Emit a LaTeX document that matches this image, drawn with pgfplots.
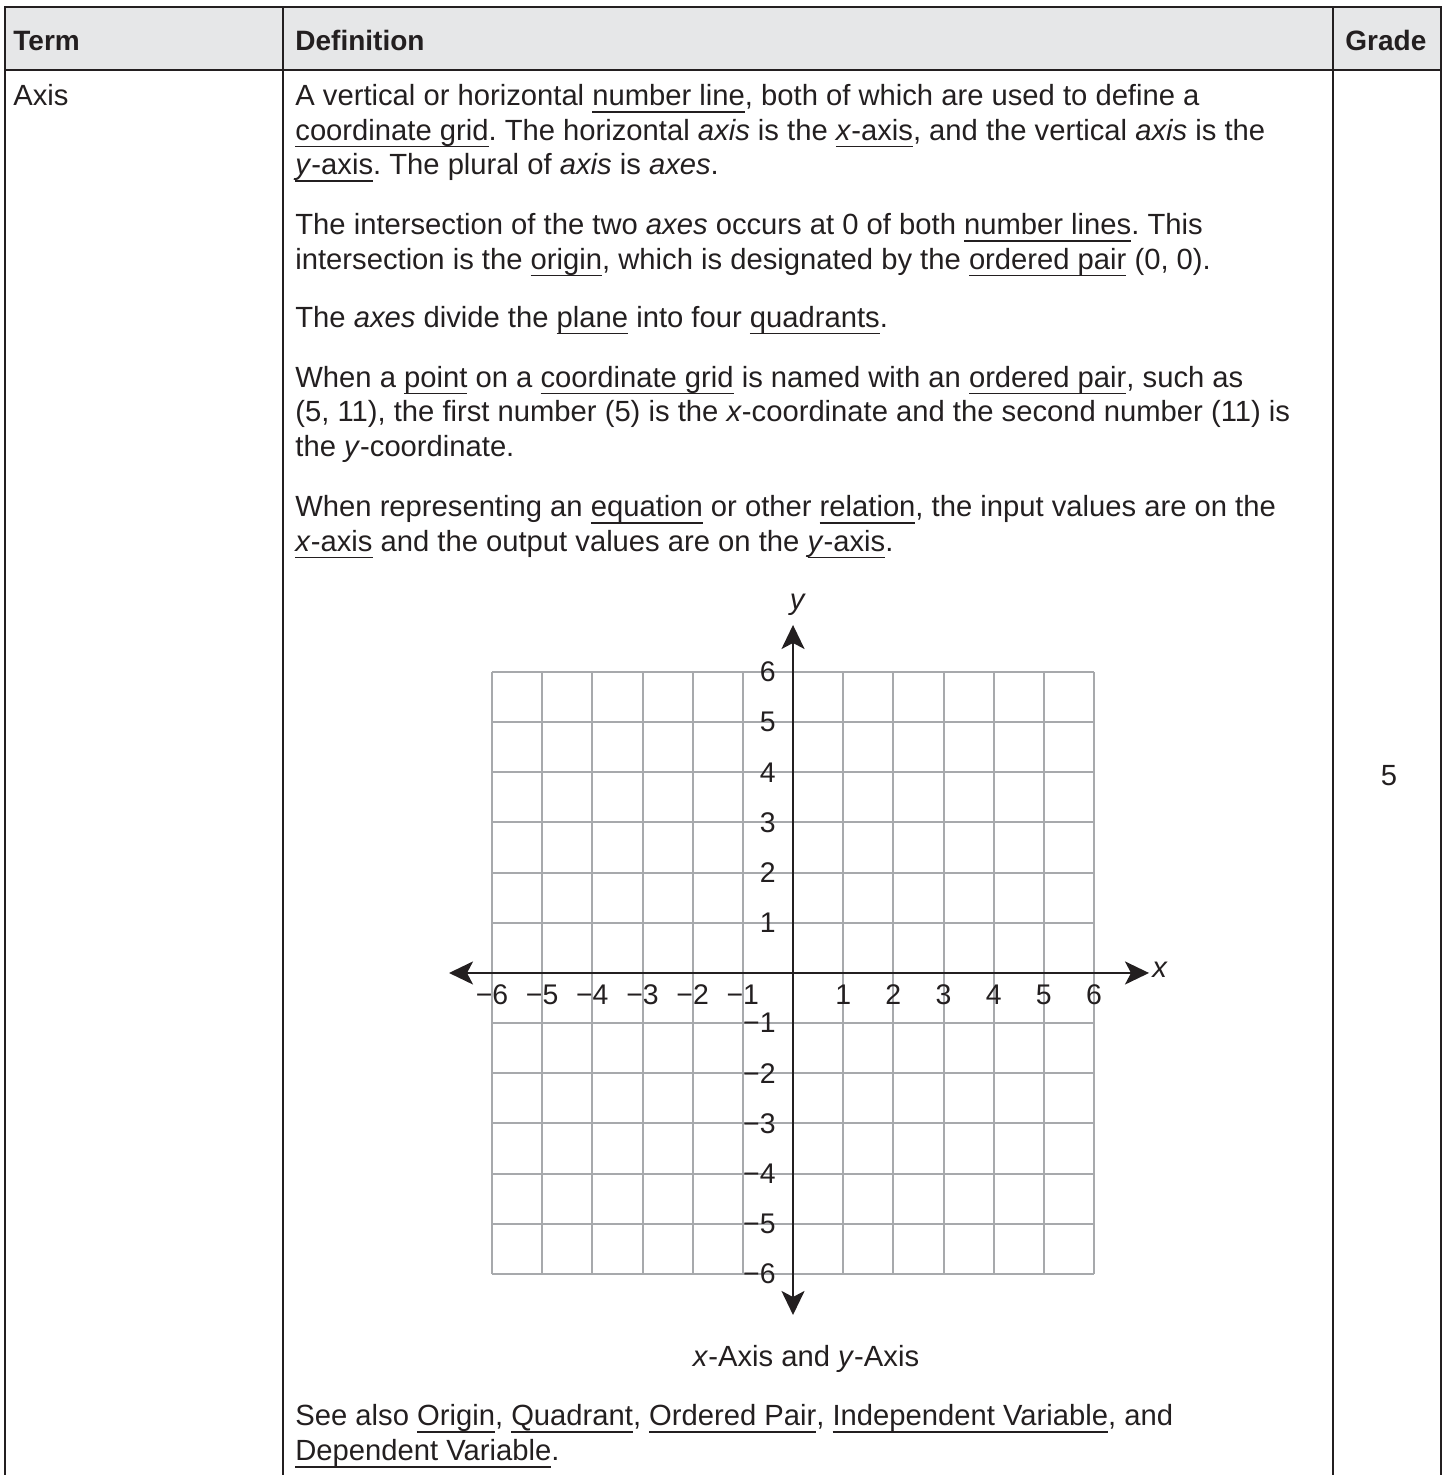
\documentclass[border=0pt]{standalone}
\usepackage{fontspec}
\setmainfont{Liberation Sans}
\usepackage{pgfplots}
\pgfplotsset{compat=1.18}
\usetikzlibrary{arrows.meta}
\definecolor{ink}{HTML}{231F20}
\definecolor{gridgray}{HTML}{A7A9AC}
\definecolor{headfill}{HTML}{E6E7E8}
\newsavebox\ulbox
\newcommand{\ul}[1]{\sbox\ulbox{#1}\rlap{\rule[-3.3pt]{\wd\ulbox}{0.7pt}}\usebox\ulbox}
\newcommand{\body}{\fontsize{14.6}{17.25}\selectfont}
\newcommand{\head}{\fontsize{14}{17}\selectfont\bfseries}
\newcommand{\tickfont}{\fontsize{14.2}{16}\selectfont}
\tikzset{tip/.tip={Stealth[length=12pt,width=11.5pt,inset=3pt]}}
\frenchspacing

\begin{document}
\begin{tikzpicture}[x=0.5pt,y=0.5pt,
  txt/.style={anchor=base west,inner sep=0pt,font=\body,text=ink}]
\path[use as bounding box] (0,0) rectangle (1442,1475);

% table frame
\fill[headfill] (5,1405) rectangle (1441,1468);
\draw[ink,line width=1.2pt] (5,0) -- (5,1468) -- (1441,1468) -- (1441,0);
\draw[ink,line width=1.2pt] (5,1405) -- (1441,1405);
\draw[ink,line width=1.2pt] (283,0) -- (283,1468);
\draw[ink,line width=1.2pt] (1333,0) -- (1333,1468);

% header row
\node[txt,font=\head] at (13,1424) {Term};
\node[txt,font=\head] at (295,1424) {Definition};
\node[txt,font=\head] at (1345,1424) {Grade};

% body
\node[txt] at (13,1369) {Axis};
\node[txt,anchor=base] at (1389,689.5) {5};

\node[txt] at (295,1369) {A vertical or horizontal \ul{number line}, both of which are used to define a};
\node[txt] at (295,1334.5) {\ul{coordinate grid}. The horizontal \textit{axis} is the \ul{\textit{x}-axis}, and the vertical \textit{axis} is the};
\node[txt] at (295,1300) {\ul{\textit{y}-axis}. The plural of \textit{axis} is \textit{axes}.};

\node[txt] at (295,1240) {The intersection of the two \textit{axes} occurs at 0 of both \ul{number lines}. This};
\node[txt] at (295,1205.5) {intersection is the \ul{origin}, which is designated by the \ul{ordered pair} (0, 0).};

\node[txt] at (295,1147.5) {The \textit{axes} divide the \ul{plane} into four \ul{quadrants}.};

\node[txt] at (295,1087.5) {When a \ul{point} on a \ul{coordinate grid} is named with an \ul{ordered pair}, such as};
\node[txt] at (295,1053) {(5, 11), the first number (5) is the \textit{x}-coordinate and the second number (11) is};
\node[txt] at (295,1018.5) {the \textit{y}-coordinate.};

\node[txt] at (295,958) {When representing an \ul{equation} or other \ul{relation}, the input values are on the};
\node[txt] at (295,923.5) {\ul{\textit{x}-axis} and the output values are on the \ul{\textit{y}-axis}.};

\node[txt,anchor=base] at (806,108) {\textit{x}-Axis and \textit{y}-Axis};

\node[txt] at (295,49) {See also \ul{Origin}, \ul{Quadrant}, \ul{Ordered Pair}, \ul{Independent Variable}, and};
\node[txt] at (295,14) {\ul{Dependent Variable}.};

% coordinate grid
\begin{axis}[
  at={(246pt,100.5pt)}, anchor=south west,
  scale only axis, width=301pt, height=301pt,
  xmin=-6, xmax=6, ymin=-6, ymax=6,
  enlargelimits=false,
  axis lines=middle,
  axis line style={ink, line width=1.2pt},
  every inner x axis line/.append style={tip-tip, shorten <=-21.5pt, shorten >=-27.5pt},
  every inner y axis line/.append style={tip-tip, shorten <=-20.5pt, shorten >=-23.5pt},
  xtick={-6,-5,-4,-3,-2,-1,1,2,3,4,5,6},
  ytick={-6,-5,-4,-3,-2,-1,1,2,3,4,5,6},
  xticklabels={−6,−5,−4,−3,−2,−1,1,2,3,4,5,6},
  yticklabels={−6,−5,−4,−3,−2,−1,1,2,3,4,5,6},
  major tick length=0pt,
  grid=major,
  major grid style={gridgray, line width=1pt},
  ticklabel style={font=\tickfont, text=ink, inner sep=0pt},
  xticklabel style={anchor=center, yshift=-11pt},
  yticklabel style={anchor=east, xshift=-8.5pt},
  xlabel={\textit{x}}, ylabel={\textit{y}},
  every axis x label/.style={at={(axis description cs:1,0.5)}, anchor=center, xshift=33pt, yshift=1.5pt, font=\body, text=ink},
  every axis y label/.style={at={(axis description cs:0.5,1)}, anchor=center, xshift=2.5pt, yshift=33.5pt, font=\body, text=ink},
]
\end{axis}
\end{tikzpicture}
\end{document}
